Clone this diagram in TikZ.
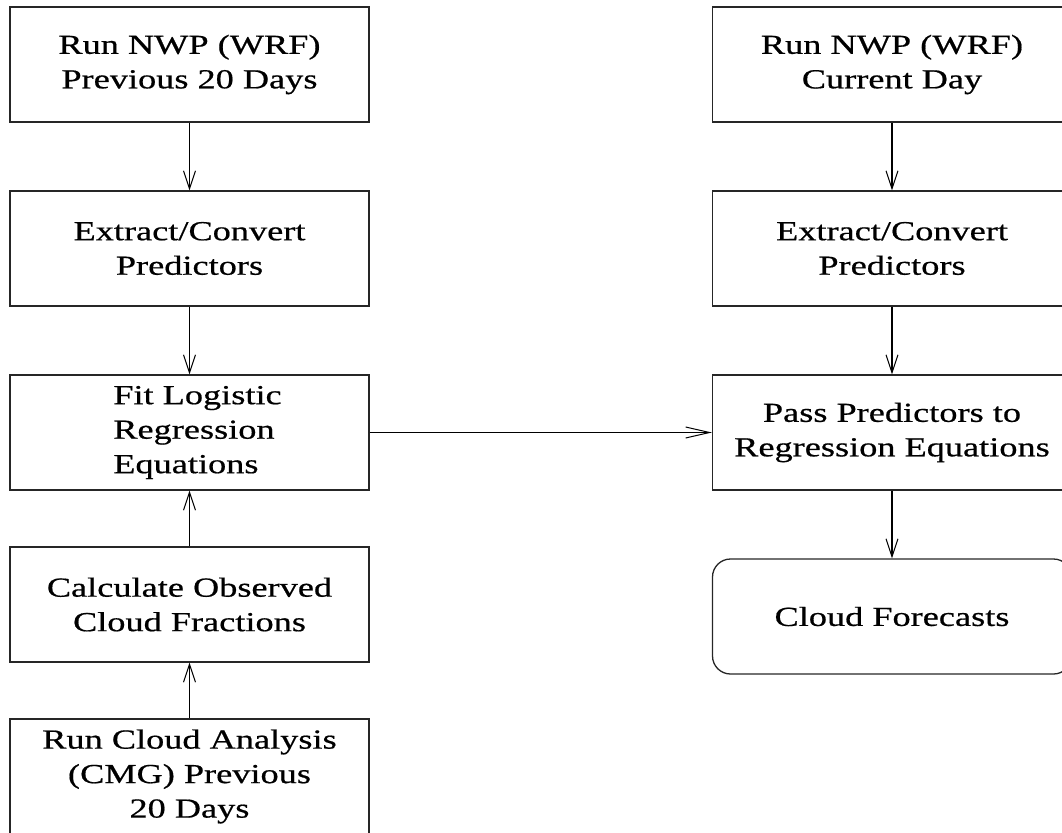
\documentclass[tikz,border=0pt]{standalone}
\usepackage{fontspec}
\setmainfont[FakeStretch=1.32,FakeBold=0.6]{Liberation Serif}
\usetikzlibrary{arrows.meta}
\begin{document}
\begin{tikzpicture}[x=1pt,y=-1pt,
  box/.style={draw=black!85, line width=1.3pt, minimum width=359pt, minimum height=115pt,
    inner sep=2pt, align=center, font=\fontsize{27.5}{34.5}\selectfont},
  roundbox/.style={box, rounded corners=18pt},
  conn/.style={draw=black, line width=1.1pt, -{Straight Barb[length=18pt,width=12pt,line width=1pt]}},
  hconn/.style={draw=black, line width=1.1pt, -{Straight Barb[length=24pt,width=11pt,line width=1pt]}}]
\useasboundingbox (0,0) rectangle (1062,832);
\begin{scope}
\clip (0,0) rectangle (1062,832);
\node[box] (L1) at (189.5,64.5) {Run NWP (WRF)\\Previous 20 Days};
\node[box] (L2) at (189.5,248.5) {Extract/Convert\\Predictors};
\node[box, align=left] (L3) at (189.5,432.5) {\hspace*{16pt}Fit Logistic\\\hspace*{16pt}Regression\\\hspace*{16pt}Equations};
\node[box] (L4) at (189.5,604.5) {Calculate Observed\\Cloud Fractions};
\node[box] (L5) at (189.5,776.5) {Run Cloud Analysis\\(CMG) Previous\\20 Days};
\node[box] (R1) at (892,64.5) {Run NWP (WRF)\\Current Day};
\node[box] (R2) at (892,248.5) {Extract/Convert\\Predictors};
\node[box] (R3) at (892,432.5) {Pass Predictors to\\Regression Equations};
\node[roundbox] (R4) at (892,616.5) {Cloud Forecasts};
\end{scope}
\draw[conn] (L1) -- (L2);
\draw[conn] (L2) -- (L3);
\draw[conn] (L4) -- (L3);
\draw[conn] (L5) -- (L4);
\draw[conn] (R1) -- (R2);
\draw[conn] (R2) -- (R3);
\draw[conn] (R3) -- (R4);
\draw[hconn] (L3) -- (R3);
\end{tikzpicture}
\end{document}
